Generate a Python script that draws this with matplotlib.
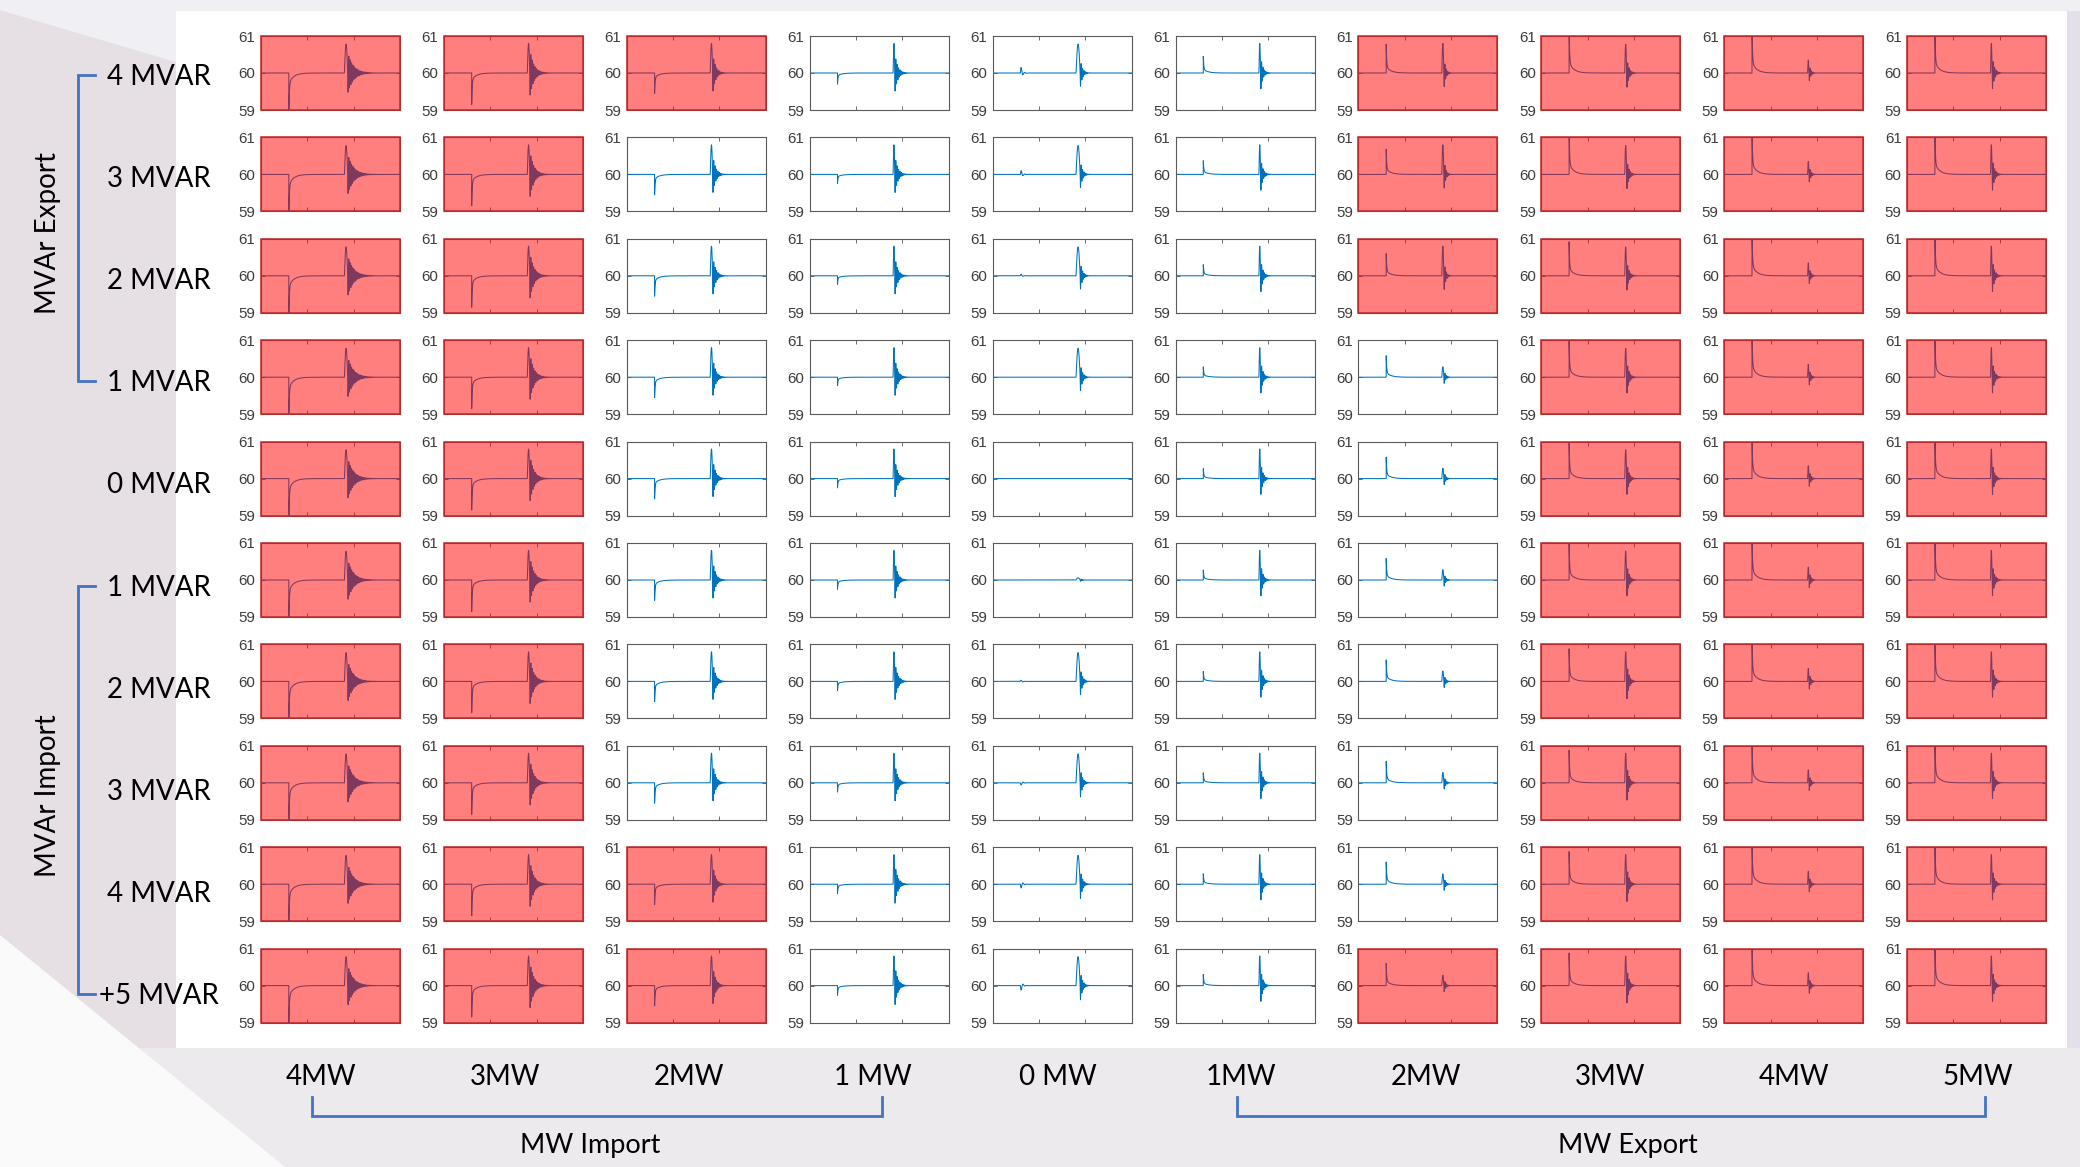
import numpy as np
import matplotlib
matplotlib.use("Agg")
import matplotlib.pyplot as plt
from matplotlib.patches import Rectangle, Polygon
from matplotlib.lines import Line2D

W, H, DPI = 2080, 1167, 100

# ---------------- data ----------------
row_labels = ["4 MVAR", "3 MVAR", "2 MVAR", "1 MVAR", "0 MVAR",
              "1 MVAR", "2 MVAR", "3 MVAR", "4 MVAR", "+5 MVAR"]
col_labels = ["4MW", "3MW", "2MW", "1 MW", "0 MW",
              "1MW", "2MW", "3MW", "4MW", "5MW"]
row_groups = ["MVAr Export", "MVAr Import"]
col_groups = ["MW Import", "MW Export"]

# 'R' = unstable case (red highlight), '.' = stable
unstable = [
    "RRR...RRRR",
    "RR....RRRR",
    "RR....RRRR",
    "RR.....RRR",
    "RR.....RRR",
    "RR.....RRR",
    "RR.....RRR",
    "RR.....RRR",
    "RRR....RRR",
    "RRR...RRRR",
]

# first disturbance: peak frequency deviation (Hz) per cell
first_dev = [
    [-1.3, -0.85, -0.55, -0.30, 0.15, 0.45, 0.78, 1.3, 1.3, 1.3],
    [-1.3, -0.85, -0.55, -0.25, 0.10, 0.37, 0.68, 1.3, 1.3, 1.3],
    [-1.3, -0.85, -0.55, -0.23, 0.04, 0.30, 0.60, 0.92, 1.3, 1.3],
    [-1.3, -0.85, -0.55, -0.23, 0.00, 0.28, 0.58, 1.0, 1.3, 1.3],
    [-1.3, -0.85, -0.55, -0.25, 0.00, 0.27, 0.58, 1.0, 1.3, 1.3],
    [-1.3, -0.85, -0.55, -0.25, 0.00, 0.27, 0.58, 1.0, 1.3, 1.3],
    [-1.3, -0.85, -0.55, -0.25, 0.03, 0.27, 0.58, 0.88, 1.3, 1.3],
    [-1.3, -0.85, -0.55, -0.25, -0.06, 0.27, 0.58, 0.88, 1.3, 1.3],
    [-1.3, -0.85, -0.55, -0.26, -0.10, 0.28, 0.60, 0.88, 1.3, 1.3],
    [-1.3, -0.85, -0.55, -0.26, -0.12, 0.30, 0.60, 0.88, 1.3, 1.3],
]

# second disturbance: burst peak (Hz above 60) and first trough (Hz below 60)
burst_peak = [
    [0.78, 0.80, 0.80, 0.80, 0.78, 0.80, 0.80, 0.78, 0.35, 0.80],
    [0.78, 0.80, 0.80, 0.80, 0.78, 0.80, 0.80, 0.78, 0.35, 0.80],
    [0.78, 0.80, 0.80, 0.80, 0.78, 0.80, 0.80, 0.78, 0.35, 0.80],
    [0.78, 0.80, 0.80, 0.80, 0.78, 0.80, 0.28, 0.78, 0.35, 0.80],
    [0.78, 0.80, 0.80, 0.80, 0.00, 0.80, 0.28, 0.78, 0.35, 0.80],
    [0.78, 0.80, 0.80, 0.80, 0.06, 0.80, 0.28, 0.78, 0.35, 0.80],
    [0.78, 0.80, 0.80, 0.80, 0.78, 0.80, 0.28, 0.80, 0.35, 0.80],
    [0.78, 0.80, 0.80, 0.80, 0.78, 0.80, 0.28, 0.80, 0.35, 0.80],
    [0.78, 0.80, 0.80, 0.80, 0.78, 0.80, 0.28, 0.80, 0.35, 0.80],
    [0.78, 0.80, 0.80, 0.80, 0.78, 0.80, 0.28, 0.80, 0.35, 0.80],
]
burst_trough = [
    [-0.55, -0.65, -0.55, -0.55, -0.42, -0.50, -0.45, -0.45, -0.25, -0.50],
    [-0.55, -0.65, -0.55, -0.55, -0.42, -0.50, -0.45, -0.45, -0.25, -0.50],
    [-0.55, -0.65, -0.55, -0.55, -0.42, -0.50, -0.45, -0.45, -0.25, -0.50],
    [-0.55, -0.65, -0.55, -0.55, -0.42, -0.50, -0.20, -0.50, -0.25, -0.50],
    [-0.55, -0.65, -0.55, -0.55, 0.00, -0.50, -0.20, -0.50, -0.25, -0.50],
    [-0.55, -0.65, -0.55, -0.55, -0.04, -0.50, -0.20, -0.50, -0.25, -0.50],
    [-0.55, -0.65, -0.55, -0.55, -0.42, -0.50, -0.20, -0.55, -0.25, -0.50],
    [-0.55, -0.65, -0.55, -0.55, -0.45, -0.50, -0.20, -0.55, -0.25, -0.50],
    [-0.55, -0.65, -0.55, -0.58, -0.45, -0.50, -0.20, -0.55, -0.25, -0.50],
    [-0.55, -0.65, -0.55, -0.58, -0.45, -0.50, -0.20, -0.55, -0.25, -0.50],
]

# per-column shape of the events (seconds)
first_kind = ["step", "step", "step", "step", "blip", "step", "step", "step", "step", "step"]
burst_decay = [1.2, 0.85, 0.6, 0.6, 0.45, 0.45, 0.36, 0.45, 0.36, 0.45]
pulse_width = [0.72, 0.54, 0.54, 0.36, 0.9, 0.36, 0.45, 0.42, 0.3, 0.36]

T_END, T1, T2 = 30.0, 6.0, 18.0
t = np.linspace(0, T_END, 12001)


def trace(r, c):
    f = np.full_like(t, 60.0)
    d1 = first_dev[r][c]
    s = t - T1
    on = s >= 0
    if first_kind[c] == "blip":
        shp = np.where(on, np.sin(2 * np.pi * s / 0.75) * np.exp(-s / 0.35), 0.0)
        shp = shp / np.abs(shp).max()
    else:
        shp = np.where(on, 0.78 * np.exp(-s / 0.1) + 0.22 * np.exp(-s / 1.0), 0.0)
    f += d1 * shp
    wp = pulse_width[c]
    s2 = t - T2
    pulse = np.where((s2 >= 0) & (s2 < wp), np.sin(np.pi * np.clip(s2, 0, wp) / wp), 0.0)
    s3 = s2 - wp
    ring = np.where(s3 >= 0, np.exp(-np.clip(s3, 0, None) / burst_decay[c]) *
                    np.sin(2 * np.pi * s3 / 0.3), 0.0)
    f += burst_peak[r][c] * pulse - abs(burst_trough[r][c]) * ring
    return f


fig = plt.figure(figsize=(W / DPI, H / DPI), dpi=DPI)

# background (pixel coordinates)
bg = fig.add_axes([0, 0, 1, 1], zorder=-5)
bg.set_xlim(0, W)
bg.set_ylim(H, 0)
bg.axis("off")
bg.add_patch(Rectangle((0, 0), W, H, color="#EDEAEE", lw=0))
bg.add_patch(Polygon([(0, 10), (176, 62), (176, 1048), (0, 1048)], closed=True, color="#E6E0E4", lw=0))
bg.add_patch(Polygon([(0, 0), (W, 0), (W, 11), (176, 11), (176, 62), (0, 10)], closed=True, color="#F0EFF4", lw=0))
bg.add_patch(Rectangle((2067, 11), W - 2067, 1037, color="#E4E0EB", lw=0))
bg.add_patch(Polygon([(0, 935), (285, H), (0, H)], closed=True, color="#FAFAFA", lw=0))
bg.add_patch(Rectangle((176, 11), 1891, 1037, color="white", lw=0))

BLUE = "#4472C4"
FONT = "Lato"

# row labels and brackets
for r, lab in enumerate(row_labels):
    yc = 75 + 102.1 * r
    x0 = 99 if lab.startswith("+") else 107
    bg.text(x0, yc + 10, lab, fontsize=20, family=FONT, ha="left", va="baseline", color="black")
y_top = [75, 75 + 102.1 * 5]
y_bot = [75 + 102.1 * 3, 75 + 102.1 * 9]
for g in range(2):
    bg.add_line(Line2D([95, 77.5, 77.5, 95], [y_top[g], y_top[g], y_bot[g], y_bot[g]],
                       color=BLUE, lw=2.0, solid_joinstyle="miter"))
bg.text(48, 233, row_groups[0], fontsize=20, family=FONT, rotation=90, ha="center", va="center")
bg.text(48, 796, row_groups[1], fontsize=20, family=FONT, rotation=90, ha="center", va="center")

# column labels and brackets
for c, lab in enumerate(col_labels):
    bg.text(321 + 184.1 * c, 1085, lab, fontsize=20, family=FONT, ha="center", va="baseline")
for (xa, xb), lab, xc in zip([(312, 882), (1237, 1985)], col_groups, [590, 1628]):
    bg.add_line(Line2D([xa, xa, xb, xb], [1097, 1116, 1116, 1097], color=BLUE, lw=2.0,
                       solid_joinstyle="miter"))
    bg.text(xc, 1153, lab, fontsize=19.5, family=FONT, ha="center", va="baseline")

# grid of frequency plots
AX_L, AX_DX, AX_W = 261, 182.9, 139
AX_T, AX_DY, AX_H = 36, 101.4, 74
for r in range(10):
    for c in range(10):
        L = AX_L + AX_DX * c
        T = AX_T + AX_DY * r
        ax = fig.add_axes([L / W, 1 - (T + AX_H) / H, AX_W / W, AX_H / H])
        ax.plot(t, trace(r, c), color="#0072BD", lw=0.75, zorder=2)
        ax.set_xlim(0, T_END)
        ax.set_ylim(59, 61)
        ax.set_yticks([59, 60, 61])
        ax.set_xticks([10, 20])
        ax.set_xticklabels([])
        ax.tick_params(direction="in", length=3, width=0.6, color="#555555",
                       labelsize=10.8, labelcolor="#3c3c3c", pad=4, top=True, right=True)
        for lbl in ax.get_yticklabels():
            lbl.set_family("Liberation Sans")
        for sp in ax.spines.values():
            sp.set_color("#5a5a5a")
            sp.set_linewidth(0.8)
        if unstable[r][c] == "R":
            ax.add_patch(Rectangle((0, 0), 1, 1, transform=ax.transAxes,
                                   facecolor=(1, 0, 0, 0.5), edgecolor="#C0282D",
                                   lw=1.1, zorder=3, clip_on=False))

fig.savefig("out.png", dpi=DPI)
